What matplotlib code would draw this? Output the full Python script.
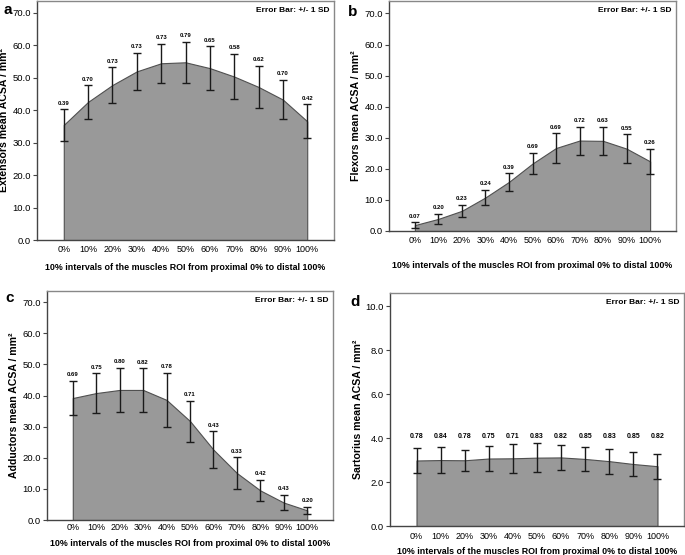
import matplotlib
matplotlib.use('Agg')
import matplotlib.pyplot as plt
import numpy as np

plt.rcParams['font.family'] = ['Liberation Sans', 'DejaVu Sans']

# x categories (10% steps of the ROI)
positions = ['0%', '10%', '20%', '30%', '40%', '50%', '60%', '70%', '80%', '90%', '100%']

# a: extensors
ext_mean = [35.5, 42.6, 47.8, 52.0, 54.5, 54.8, 53.0, 50.4, 47.2, 43.3, 36.6]
ext_sd = [4.9, 5.2, 5.5, 5.7, 6.0, 6.4, 6.8, 7.0, 6.6, 6.1, 5.3]
ext_lab = ['0.39', '0.70', '0.73', '0.73', '0.73', '0.79', '0.65', '0.58', '0.62', '0.70', '0.42']

# b: flexors
flex_mean = [1.9, 3.9, 6.5, 10.8, 15.8, 21.7, 26.7, 29.1, 29.0, 26.5, 22.4]
flex_sd = [1.0, 1.6, 2.0, 2.5, 2.8, 3.5, 4.8, 4.5, 4.5, 4.7, 4.0]
flex_lab = ['0.07', '0.20', '0.23', '0.24', '0.39', '0.69', '0.69', '0.72', '0.63', '0.55', '0.26']

# c: adductors
add_mean = [39.2, 40.8, 41.8, 41.8, 38.6, 31.8, 22.6, 15.1, 9.5, 5.6, 3.1]
add_sd = [5.5, 6.4, 7.1, 7.0, 8.7, 6.6, 6.0, 5.0, 3.5, 2.5, 1.2]
add_lab = ['0.69', '0.75', '0.80', '0.82', '0.78', '0.71', '0.43', '0.33', '0.42', '0.43', '0.20']

# d: sartorius
sar_mean = [2.98, 3.00, 2.99, 3.07, 3.08, 3.11, 3.12, 3.05, 2.95, 2.82, 2.72]
sar_sd = [0.56, 0.58, 0.49, 0.55, 0.66, 0.66, 0.56, 0.55, 0.57, 0.55, 0.56]
sar_lab = ['0.78', '0.84', '0.78', '0.75', '0.71', '0.83', '0.82', '0.85', '0.83', '0.85', '0.82']

xlabel = '10% intervals of the muscles ROI from proximal 0% to distal 100%'

W, H = 685, 555
fig = plt.figure(figsize=(W / 100, H / 100), dpi=100)


def px_axes(l, t, r, b):
    return fig.add_axes([l / W, 1 - b / H, (r - l) / W, (b - t) / H])


panels = [
    # letter, name, mean, sd, labels, box(l,t,r,b), ymax, ystep, tick pad, xlabelpad, letter pos, fixed label y
    ('a', 'Extensors', ext_mean, ext_sd, ext_lab, (37, 1, 334, 240), 73.7, 10, 3.8, 6.5, (3, 10), None),
    ('b', 'Flexors', flex_mean, flex_sd, flex_lab, (389, 1, 676, 231), 74.0, 10, 3.8, 11, (348, 12), None),
    ('c', 'Adductors', add_mean, add_sd, add_lab, (47, 291, 333, 520), 73.6, 10, 2.0, 5, (5, 298), None),
    ('d', 'Sartorius', sar_mean, sar_sd, sar_lab, (390, 293, 684, 526), 10.6, 2, 4.5, 4.5, (350, 302), 3.9),
]

x = np.arange(len(positions))

for letter, name, mean, sd, labs, box, ymax, ystep, tpad, lpad, lpos, fixed_y in panels:
    ax = px_axes(*box)
    ax.fill_between(x, 0, mean, facecolor='#999999', edgecolor='#505050', linewidth=0.8, zorder=1)
    ax.errorbar(x, mean, yerr=sd, fmt='none', ecolor='#1a1a1a', elinewidth=1.0,
                capsize=3, capthick=1.0, zorder=3)
    top = np.array(mean) + np.array(sd)
    for xi, ti, lab in zip(x, top, labs):
        if fixed_y is None:
            ax.annotate(lab, (xi, ti), xytext=(0, 2.5), textcoords='offset points',
                        ha='center', va='bottom', fontsize=4.3, fontweight='bold')
        else:
            ax.text(xi, fixed_y, lab, ha='center', va='bottom', fontsize=5, fontweight='bold')

    ax.set_xlim(-1.1, 11.1)
    ax.set_ylim(0, ymax)
    ax.set_yticks(np.arange(0, ymax, ystep))
    ax.set_yticklabels([f'{v:.1f}' for v in np.arange(0, ymax, ystep)])
    ax.set_xticks(x)
    ax.set_xticklabels(positions)
    ax.tick_params(axis='x', length=0, labelsize=6.5, pad=tpad)
    ax.tick_params(axis='y', length=3, width=0.8, labelsize=6.8, pad=1.5, color='#444444')
    for s in ax.spines.values():
        s.set_color('#888888')
        s.set_linewidth(1.0)
    ax.spines['left'].set_color('#444444')
    ax.spines['bottom'].set_color('#444444')
    ax.set_xlabel(xlabel, fontsize=6.4, fontweight='bold', labelpad=lpad)
    ax.set_ylabel(name + ' mean ACSA / mm²', fontsize=7.6, fontweight='bold', labelpad=2)
    ax.text(0.985, 0.975, 'Error Bar: +/- 1 SD', transform=ax.transAxes, ha='right', va='top',
            fontsize=6.0, fontweight='bold')
    fig.text(lpos[0] / W, 1 - lpos[1] / H, letter, fontsize=11, fontweight='bold',
             ha='left', va='center')

fig.savefig('out.png', dpi=100)
